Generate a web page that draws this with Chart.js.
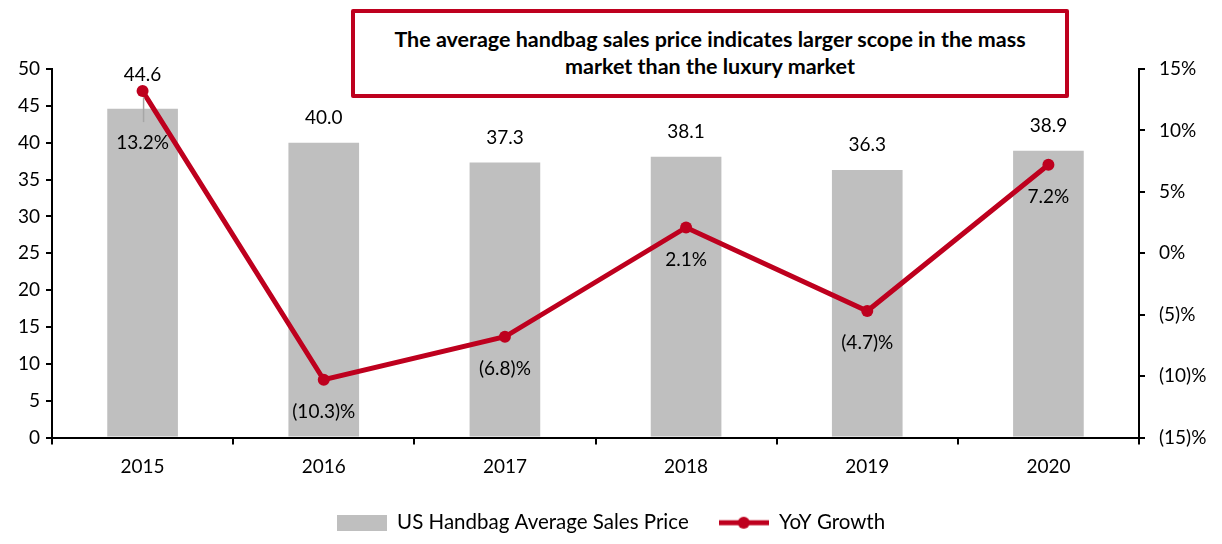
<!DOCTYPE html>
<html>
<head>
<meta charset="utf-8">
<script src="https://cdn.jsdelivr.net/npm/chart.js@4/dist/chart.umd.min.js"></script>
<style>
  html, body { margin: 0; padding: 0; background: #fff; }
  #wrap { position: relative; width: 1222px; height: 544px; }
  #note {
    position: absolute; left: 351px; top: 9px; width: 718px; height: 89px;
    box-sizing: border-box; border: 4px solid #BE001E; border-radius: 2px; background: #fff;
    font-family: Lato, "Open Sans", sans-serif; font-weight: bold; font-size: 21.5px;
    line-height: 27px; color: #000; text-align: center; padding-top: 13px;
  }
</style>
</head>
<body>
<div id="wrap">
  <canvas id="c" width="1222" height="544"></canvas>
  <div id="note">The average handbag sales price indicates larger scope in the mass<br>market than the luxury market</div>
</div>
<script>
const categories = ['2015', '2016', '2017', '2018', '2019', '2020'];
const avgPrice = [44.6, 40.0, 37.3, 38.1, 36.3, 38.9];
const yoyGrowth = [13.2, -10.3, -6.8, 2.1, -4.7, 7.2];
const leftTicks = [0, 5, 10, 15, 20, 25, 30, 35, 40, 45, 50];
const rightTicks = [-15, -10, -5, 0, 5, 10, 15];

const RED = '#BE001E';
const GRAY = '#BFBFBF';
const FONT = 'Lato, "Open Sans", sans-serif';

function pct(v) {
  return v < 0 ? '(' + (-v) + ')%' : v + '%';
}

function legendIcon(kind) {
  const cv = document.createElement('canvas');
  cv.width = 50; cv.height = 16;
  const g = cv.getContext('2d');
  if (kind === 'bar') {
    g.fillStyle = GRAY; g.fillRect(0, 0, 50, 16);
  } else {
    g.strokeStyle = RED; g.lineWidth = 5;
    g.beginPath(); g.moveTo(0, 8); g.lineTo(50, 8); g.stroke();
    g.fillStyle = RED; g.beginPath(); g.arc(25, 8, 6, 0, Math.PI * 2); g.fill();
  }
  return cv;
}

const labelPlugin = {
  id: 'valueLabels',
  afterDatasetsDraw(chart) {
    const ctx = chart.ctx;
    const barMeta = chart.getDatasetMeta(0);
    const lineMeta = chart.getDatasetMeta(1);
    ctx.save();
    ctx.font = '19px ' + FONT;
    ctx.fillStyle = '#000';
    ctx.textAlign = 'center';
    ctx.textBaseline = 'middle';
    barMeta.data.forEach((bar, i) => {
      let y = bar.y - 25;
      const p = lineMeta.data[i];
      if (Math.abs(p.y - y) < 20) y = p.y - 16;
      ctx.fillText(avgPrice[i].toFixed(1), bar.x, y);
    });
    lineMeta.data.forEach((p, i) => {
      let dy = 32;
      if (i === 0) {
        dy = 52;
        ctx.strokeStyle = '#A6A6A6'; ctx.lineWidth = 1.5;
        ctx.beginPath(); ctx.moveTo(p.x + 1, p.y + 6); ctx.lineTo(p.x + 1, p.y + 31); ctx.stroke();
      }
      ctx.fillStyle = '#000';
      ctx.fillText(pct(yoyGrowth[i]), p.x, p.y + dy);
    });
    ctx.restore();
  }
};

new Chart(document.getElementById('c'), {
  type: 'bar',
  data: {
    labels: categories,
    datasets: [
      {
        type: 'bar', label: 'US Handbag Average Sales Price', data: avgPrice,
        backgroundColor: GRAY, yAxisID: 'y', barPercentage: 0.39, categoryPercentage: 1, order: 2
      },
      {
        type: 'line', label: 'YoY Growth', data: yoyGrowth, yAxisID: 'y1',
        borderColor: RED, backgroundColor: RED, borderWidth: 5, pointRadius: 6,
        pointBackgroundColor: RED, pointBorderWidth: 0, tension: 0, order: 1
      }
    ]
  },
  options: {
    responsive: false,
    animation: false,
    devicePixelRatio: 1,
    layout: { padding: { top: 69, left: 0, right: 0, bottom: 1 } },
    plugins: {
      tooltip: { enabled: false },
      legend: {
        position: 'bottom',
        labels: {
          font: { family: FONT, size: 20.5 }, color: '#000', padding: 30,
          usePointStyle: true, pointStyleWidth: 50, boxHeight: 16,
          generateLabels(chart) {
            return chart.data.datasets.map((ds, i) => ({
              text: ds.label, datasetIndex: i, hidden: false,
              pointStyle: legendIcon(i === 0 ? 'bar' : 'line'),
              fillStyle: ds.backgroundColor, strokeStyle: ds.backgroundColor, lineWidth: 0
            }));
          }
        }
      }
    },
    scales: {
      x: {
        offset: true,
        grid: { display: true, drawOnChartArea: false, offset: true, tickLength: 7, color: '#000', lineWidth: 2 },
        border: { display: true, color: '#000', width: 2 },
        ticks: { font: { family: FONT, size: 19 }, color: '#000', padding: 11 },
        afterFit(s) { s.height = 45; }
      },
      y: {
        position: 'left', min: 0, max: 50,
        afterBuildTicks(s) { s.ticks = leftTicks.map(v => ({ value: v })); },
        grid: { display: true, drawOnChartArea: false, tickLength: 6, color: '#000', lineWidth: 2 },
        border: { display: true, color: '#000', width: 2 },
        ticks: { font: { family: FONT, size: 19 }, color: '#000', padding: 6 },
        afterFit(s) { s.width = 52; }
      },
      y1: {
        position: 'right', min: -15, max: 15,
        afterBuildTicks(s) { s.ticks = rightTicks.map(v => ({ value: v })); },
        grid: { display: true, drawOnChartArea: false, tickLength: 6, color: '#000', lineWidth: 2 },
        border: { display: true, color: '#000', width: 2 },
        ticks: { font: { family: FONT, size: 19 }, color: '#000', padding: 14, callback: v => pct(v) },
        afterFit(s) { s.width = 83; }
      }
    }
  },
  plugins: [labelPlugin]
});
</script>
</body>
</html>
